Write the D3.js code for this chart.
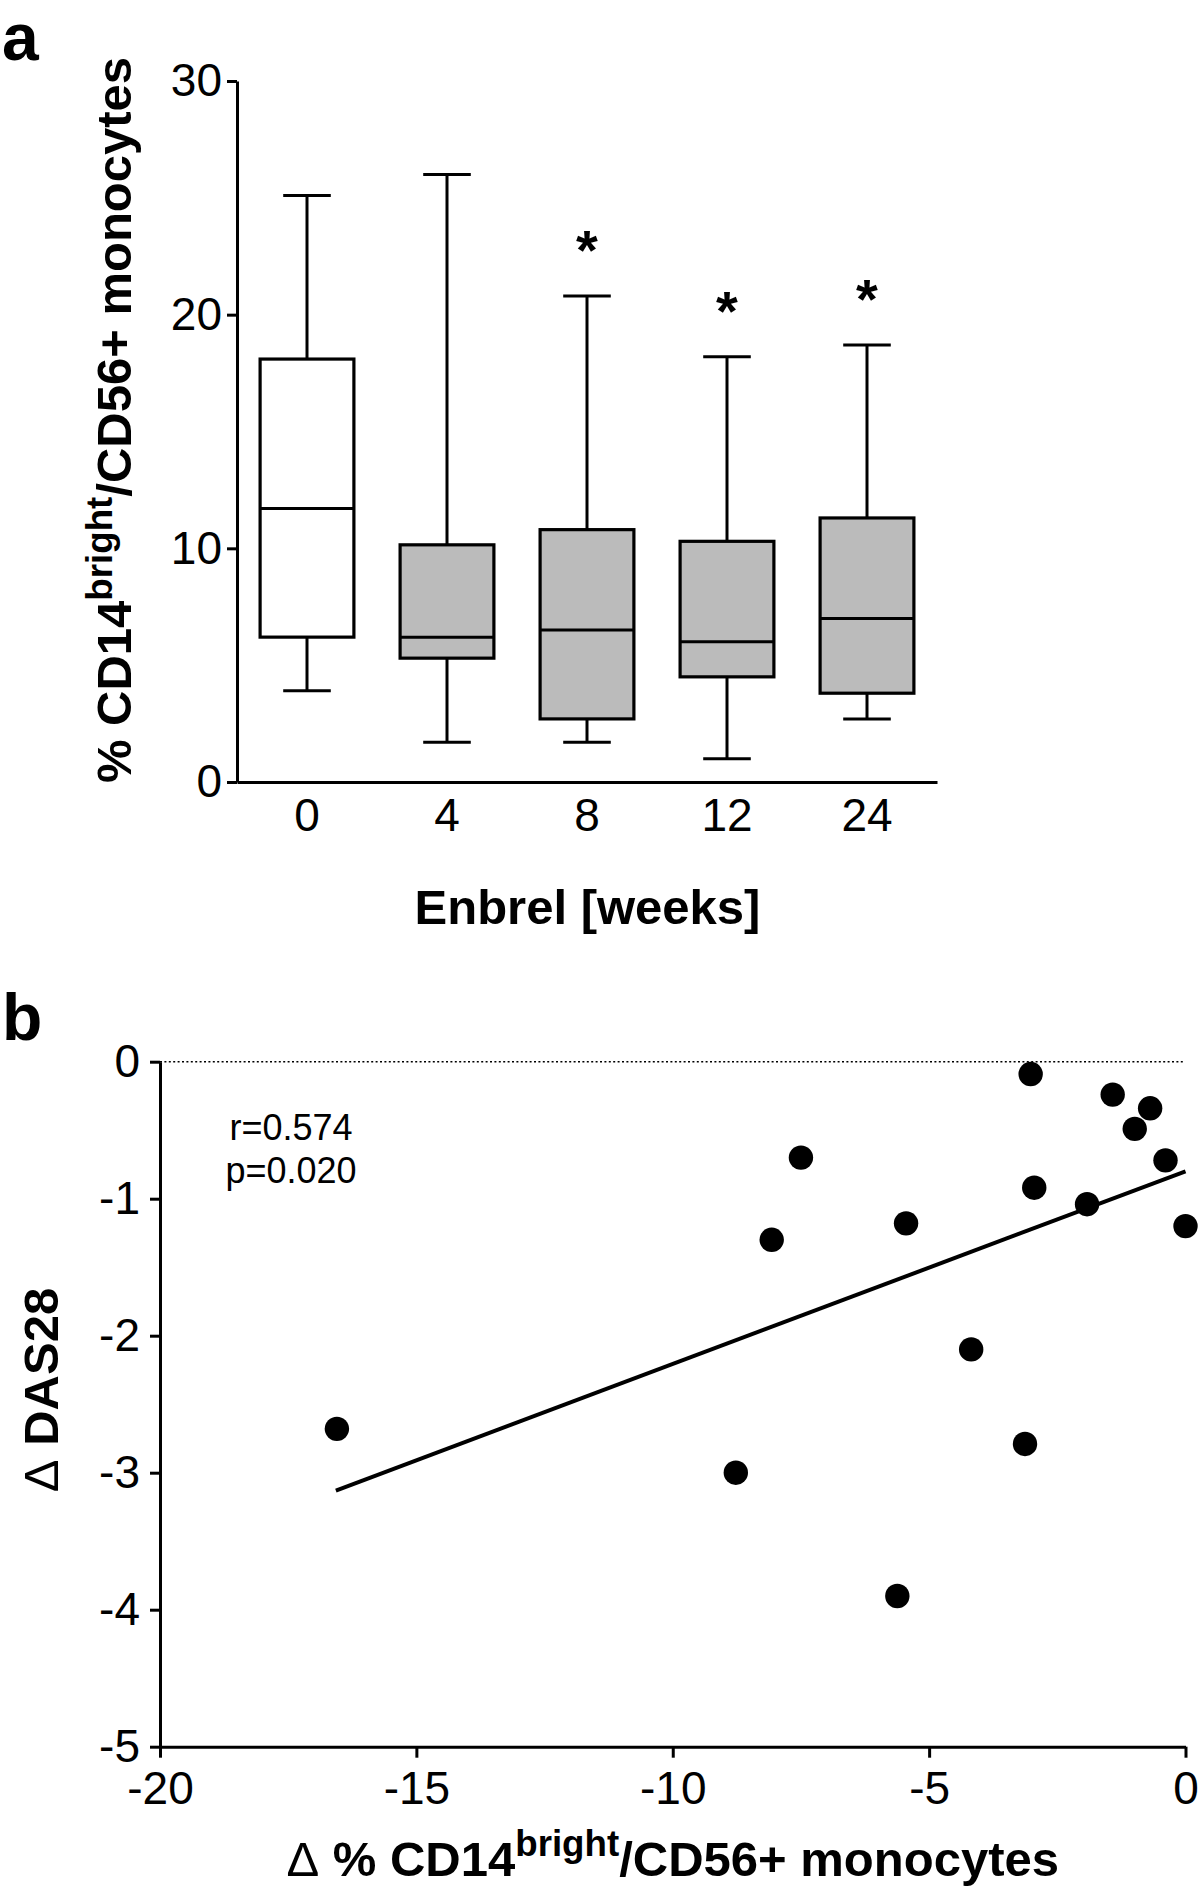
<!DOCTYPE html>
<html>
<head>
<meta charset="utf-8">
<script src="https://cdn.jsdelivr.net/npm/d3@7"></script>
<style>
  html, body { margin: 0; padding: 0; background: #ffffff; }
  svg { display: block; }
  text { font-family: "Liberation Sans", Arial, Helvetica, sans-serif; fill: #000; }
</style>
</head>
<body>
<svg id="chart" width="1200" height="1888"></svg>
<script>
// ---------- Panel a data: box plots ----------
const weeks        = ["0", "4", "8", "12", "24"];
const whiskerLow   = [3.9, 1.7, 1.7, 1.0, 2.7];
const quartile1    = [6.2, 5.3, 2.7, 4.5, 3.8];
const medians      = [11.7, 6.2, 6.5, 6.0, 7.0];
const quartile3    = [18.1, 10.15, 10.8, 10.3, 11.3];
const whiskerHigh  = [25.1, 26.0, 20.8, 18.2, 18.7];
const significant  = [false, false, true, true, true];
const yTicksA      = [0, 10, 20, 30];

// ---------- Panel b data: scatter ----------
const deltaMonocytes = [-16.55, -8.77, -8.07, -7.5, -5.62, -5.45, -4.18, -3.13, -3.02, -2.95, -1.92, -1.42, -0.99, -0.69, -0.39, 0.0];
const deltaDAS28     = [-2.68, -3.0, -1.30, -0.70, -3.90, -1.18, -2.10, -2.79, -0.09, -0.92, -1.04, -0.24, -0.49, -0.34, -0.72, -1.20];
const fitLineX       = [-16.57, 0];
const fitLineY       = [-3.13, -0.80];
const xTicksB        = [-20, -15, -10, -5, 0];
const yTicksB        = [0, -1, -2, -3, -4, -5];
const statsText      = ["r=0.574", "p=0.020"];

const svg = d3.select("#chart");
const plainFmt = d => String(d);

// ================= Panel a =================
const gA = svg.append("g");
const xA = d3.scaleBand().domain(weeks).range([237, 937]).padding(0);
const yA = d3.scaleLinear().domain([0, 30]).range([782, 81]);

const boxes = weeks.map((w, i) => ({
  w, lo: whiskerLow[i], q1: quartile1[i], med: medians[i], q3: quartile3[i], hi: whiskerHigh[i], sig: significant[i], i
}));

const bw = xA.bandwidth() * 0.67;
const cw = xA.bandwidth() * 0.34;
const bg = gA.selectAll("g.box").data(boxes).enter().append("g").attr("class", "box");
const cx = d => xA(d.w) + xA.bandwidth() / 2;

// whiskers
bg.append("line").attr("x1", cx).attr("x2", cx).attr("y1", d => yA(d.hi)).attr("y2", d => yA(d.q3))
  .attr("stroke", "#000").attr("stroke-width", 3);
bg.append("line").attr("x1", cx).attr("x2", cx).attr("y1", d => yA(d.q1)).attr("y2", d => yA(d.lo))
  .attr("stroke", "#000").attr("stroke-width", 3);
// caps
bg.append("line").attr("x1", d => cx(d) - cw / 2).attr("x2", d => cx(d) + cw / 2)
  .attr("y1", d => yA(d.hi)).attr("y2", d => yA(d.hi)).attr("stroke", "#000").attr("stroke-width", 3);
bg.append("line").attr("x1", d => cx(d) - cw / 2).attr("x2", d => cx(d) + cw / 2)
  .attr("y1", d => yA(d.lo)).attr("y2", d => yA(d.lo)).attr("stroke", "#000").attr("stroke-width", 3);
// box
bg.append("rect").attr("x", d => cx(d) - bw / 2).attr("width", bw)
  .attr("y", d => yA(d.q3)).attr("height", d => yA(d.q1) - yA(d.q3))
  .attr("fill", d => d.i === 0 ? "#ffffff" : "#bbbbbb")
  .attr("stroke", "#000").attr("stroke-width", 3.2);
// median
bg.append("line").attr("x1", d => cx(d) - bw / 2).attr("x2", d => cx(d) + bw / 2)
  .attr("y1", d => yA(d.med)).attr("y2", d => yA(d.med)).attr("stroke", "#000").attr("stroke-width", 3);
// stars
bg.filter(d => d.sig).append("text")
  .attr("x", cx).attr("y", d => yA(d.hi) - 27)
  .attr("text-anchor", "middle").attr("font-size", 56).attr("font-weight", "bold")
  .text("*");

// axes
const axA = gA.append("g").attr("transform", "translate(237,0)")
  .call(d3.axisLeft(yA).tickValues(yTicksA).tickFormat(plainFmt).tickSize(10).tickSizeOuter(0).tickPadding(5));
const axAx = gA.append("g").attr("transform", "translate(0,782)")
  .call(d3.axisBottom(xA).tickSize(0).tickSizeOuter(0).tickPadding(16));
[axA, axAx].forEach(a => {
  a.select(".domain").attr("stroke", "#000").attr("stroke-width", 3);
  a.selectAll(".tick line").attr("stroke", "#000").attr("stroke-width", 3);
  a.selectAll(".tick text").attr("font-size", 46).attr("font-family", '"Liberation Sans", Arial, sans-serif').attr("fill", "#000");
});

// titles a
const tYA = gA.append("text").attr("transform", "translate(131,420) rotate(-90)")
  .attr("text-anchor", "middle").attr("font-size", 49).attr("font-weight", "bold");
tYA.append("tspan").text("% CD14");
tYA.append("tspan").attr("font-size", 36.7).attr("dy", -19).text("bright");
tYA.append("tspan").attr("dy", 19).text("/CD56+ monocytes");

gA.append("text").attr("x", 587.5).attr("y", 924).attr("text-anchor", "middle")
  .attr("font-size", 49).attr("font-weight", "bold").text("Enbrel [weeks]");

svg.append("text").attr("x", 2).attr("y", 60).attr("font-size", 66).attr("font-weight", "bold").text("a");

// ================= Panel b =================
const gB = svg.append("g");
const xB = d3.scaleLinear().domain([-20, 0]).range([160, 1185.5]);
const yB = d3.scaleLinear().domain([-5, 0]).range([1746.7, 1061.7]);

// dotted zero line
gB.append("line").attr("x1", xB(-20)).attr("x2", xB(0) - 2).attr("y1", yB(0)).attr("y2", yB(0))
  .attr("stroke", "#000").attr("stroke-width", 1.6).attr("stroke-dasharray", "2,2.4");

// regression line
gB.append("path")
  .datum(fitLineX.map((x, i) => [x, fitLineY[i]]))
  .attr("d", d3.line().x(d => xB(d[0])).y(d => yB(d[1])))
  .attr("stroke", "#000").attr("stroke-width", 4).attr("fill", "none");

// points
gB.selectAll("circle").data(deltaMonocytes.map((x, i) => [x, deltaDAS28[i]])).enter()
  .append("circle").attr("cx", d => xB(d[0])).attr("cy", d => yB(d[1])).attr("r", 12.2).attr("fill", "#000");

const axBy = gB.append("g").attr("transform", "translate(160,0)")
  .call(d3.axisLeft(yB).tickValues(yTicksB).tickFormat(plainFmt).tickSize(10).tickSizeOuter(0).tickPadding(10));
const axBx = gB.append("g").attr("transform", "translate(0,1746.7)")
  .call(d3.axisBottom(xB).tickValues(xTicksB).tickFormat(plainFmt).tickSize(11).tickSizeOuter(0).tickPadding(14));
[axBy, axBx].forEach(a => {
  a.select(".domain").attr("stroke", "#000").attr("stroke-width", 3);
  a.selectAll(".tick line").attr("stroke", "#000").attr("stroke-width", 3);
  a.selectAll(".tick text").attr("font-size", 46).attr("font-family", '"Liberation Sans", Arial, sans-serif').attr("fill", "#000");
});

// stats text
gB.selectAll("text.stat").data(statsText).enter().append("text").attr("class", "stat")
  .attr("x", 291).attr("y", (d, i) => 1140 + i * 43).attr("text-anchor", "middle")
  .attr("font-size", 36).text(d => d);

// titles b
const tYB = gB.append("text").attr("transform", "translate(58,1390) rotate(-90)")
  .attr("text-anchor", "middle").attr("font-size", 49).attr("font-weight", "bold");
tYB.append("tspan").attr("font-weight", "normal").text("\u0394");
tYB.append("tspan").text(" DAS28");

const tXB = gB.append("text").attr("x", 672.7).attr("y", 1876).attr("text-anchor", "middle")
  .attr("font-size", 49).attr("font-weight", "bold");
tXB.append("tspan").attr("font-weight", "normal").text("\u0394");
tXB.append("tspan").text(" % CD14");
tXB.append("tspan").attr("font-size", 36.7).attr("dy", -20).text("bright");
tXB.append("tspan").attr("dy", 20).text("/CD56+ monocytes");

svg.append("text").attr("x", 2).attr("y", 1040).attr("font-size", 66).attr("font-weight", "bold").text("b");
</script>
</body>
</html>
